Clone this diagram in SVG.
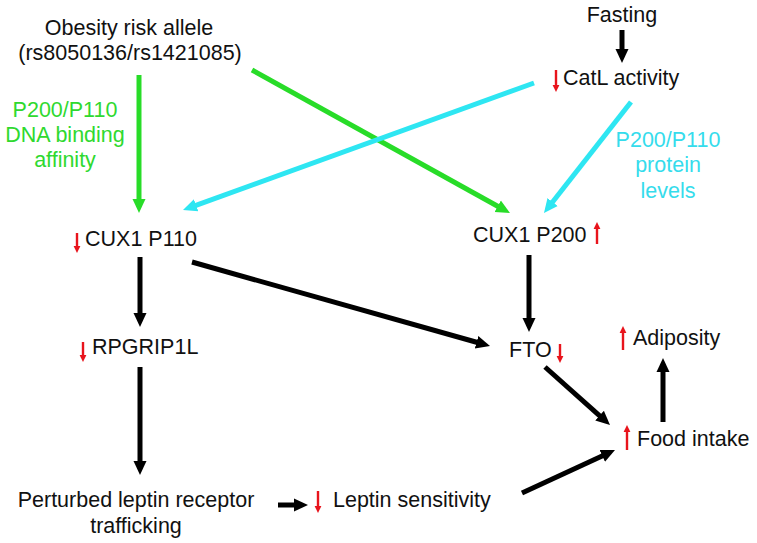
<svg xmlns="http://www.w3.org/2000/svg" width="757" height="543" viewBox="0 0 757 543">
<style>
text{font-family:"Liberation Sans",Arial,sans-serif;font-size:21.5px;fill:#111}
.c{text-anchor:middle}
.g{fill:#2fd92f}
.cy{fill:#35dcec}
.k{stroke:#000;stroke-width:5;fill:none}
.gl{stroke:#28dc28;stroke-width:5;fill:none}
.cl{stroke:#2ee6f2;stroke-width:5;fill:none}
.r{stroke:#e8141c;stroke-width:2.4;fill:none}
</style>
<defs>
<marker id="hk" markerUnits="userSpaceOnUse" markerWidth="16" markerHeight="16" refX="1" refY="0" viewBox="0 -8 16 16" orient="auto"><path d="M0,-6.5 L14,0 L0,6.5 z" fill="#000"/></marker>
<marker id="hg" markerUnits="userSpaceOnUse" markerWidth="16" markerHeight="16" refX="1" refY="0" viewBox="0 -8 16 16" orient="auto"><path d="M0,-6.5 L14,0 L0,6.5 z" fill="#28dc28"/></marker>
<marker id="hc" markerUnits="userSpaceOnUse" markerWidth="16" markerHeight="16" refX="1" refY="0" viewBox="0 -8 16 16" orient="auto"><path d="M0,-6.5 L14,0 L0,6.5 z" fill="#2ee6f2"/></marker>
<marker id="hr" markerUnits="userSpaceOnUse" markerWidth="10" markerHeight="10" refX="1" refY="0" viewBox="0 -5 10 10" orient="auto"><path d="M0,-3.4 L7,0 L0,3.4 z" fill="#e8141c"/></marker>
</defs>
<g id="connectors">
<line class="gl" x1="139" y1="75" x2="139" y2="200" marker-end="url(#hg)"/>
<line class="gl" x1="252" y1="70" x2="498.6" y2="206.7" marker-end="url(#hg)"/>
<line class="cl" x1="534" y1="83" x2="195.2" y2="205.6" marker-end="url(#hc)"/>
<line class="cl" x1="631" y1="102" x2="552" y2="202.8" marker-end="url(#hc)"/>
<line class="k" x1="622" y1="30" x2="622" y2="50" marker-end="url(#hk)"/>
<line class="k" x1="140" y1="257" x2="140" y2="314" marker-end="url(#hk)"/>
<line class="k" x1="140" y1="367" x2="140" y2="462" marker-end="url(#hk)"/>
<line class="k" x1="192" y1="262" x2="477.5" y2="342.5" marker-end="url(#hk)"/>
<line class="k" x1="529" y1="255" x2="529" y2="319" marker-end="url(#hk)"/>
<line class="k" x1="545" y1="367" x2="600.3" y2="416.3" marker-end="url(#hk)"/>
<line class="k" x1="522" y1="493" x2="603.2" y2="455.5" marker-end="url(#hk)"/>
<line class="k" x1="663" y1="422" x2="663" y2="371" marker-end="url(#hk)"/>
<line class="k" x1="278" y1="505" x2="295" y2="505" marker-end="url(#hk)"/>
</g>
<g id="allele"><text class="c" x="129" y="35">Obesity risk allele</text><text class="c" x="130" y="60">(rs8050136/rs1421085)</text></g>
<g id="dna-label"><text class="c g" x="65" y="117">P200/P110</text><text class="c g" x="65" y="142">DNA binding</text><text class="c g" x="65" y="167">affinity</text></g>
<g id="fasting"><text class="c" x="622" y="22">Fasting</text></g>
<g id="catl"><line class="r" x1="556" y1="70" x2="556" y2="86" marker-end="url(#hr)"/><text x="563" y="85">CatL activity</text></g>
<g id="protein-label"><text class="c cy" x="668" y="147">P200/P110</text><text class="c cy" x="668" y="172">protein</text><text class="c cy" x="668" y="198">levels</text></g>
<g id="p110"><line class="r" x1="77" y1="233" x2="77" y2="247" marker-end="url(#hr)"/><text x="85" y="246">CUX1 P110</text></g>
<g id="p200"><text x="473" y="242">CUX1 P200</text><line class="r" x1="597" y1="244" x2="597" y2="228" marker-end="url(#hr)"/></g>
<g id="rpgrip1l"><line class="r" x1="83" y1="342" x2="83" y2="356" marker-end="url(#hr)"/><text x="92" y="354">RPGRIP1L</text></g>
<g id="fto"><text x="509" y="357">FTO</text><line class="r" x1="560" y1="344" x2="560" y2="357" marker-end="url(#hr)"/></g>
<g id="adiposity"><line class="r" x1="623" y1="350" x2="623" y2="332" marker-end="url(#hr)"/><text x="633" y="345">Adiposity</text></g>
<g id="food"><line class="r" x1="627" y1="450" x2="627" y2="431" marker-end="url(#hr)"/><text x="637" y="446">Food intake</text></g>
<g id="trafficking"><text class="c" x="136" y="507">Perturbed leptin receptor</text><text class="c" x="136" y="533">trafficking</text></g>
<g id="leptin"><line class="r" x1="318" y1="491" x2="318" y2="507" marker-end="url(#hr)"/><text x="333" y="507">Leptin sensitivity</text></g>
</svg>
